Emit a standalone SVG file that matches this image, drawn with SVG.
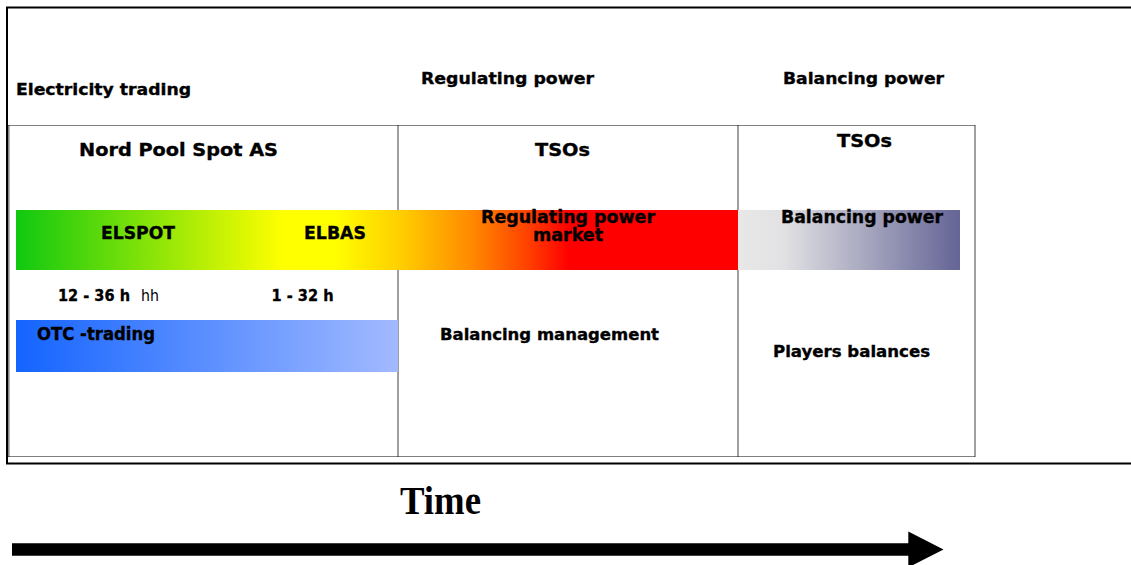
<svg xmlns="http://www.w3.org/2000/svg" width="1131" height="565" viewBox="0 0 1131 565">
  <style>
    .lbl { font-family: "DejaVu Sans", Verdana, "Liberation Sans", sans-serif; font-weight: bold; fill: #000; stroke: #000; stroke-width: 0.35; }
    .reg { font-family: "DejaVu Sans", Verdana, "Liberation Sans", sans-serif; font-weight: normal; fill: #000; }
    .frame { fill: none; stroke: #000; stroke-width: 2; }
    .dots { fill: none; stroke: #000; stroke-width: 1; stroke-dasharray: 1 1; }
    .vdots { fill: none; stroke: #111; stroke-width: 1.6; stroke-dasharray: 1 1; }
  </style>
  <defs>
    <linearGradient id="gMarket" gradientUnits="userSpaceOnUse" x1="16" y1="0" x2="738" y2="0">
      <stop offset="0" stop-color="#10c810"/>
      <stop offset="0.37" stop-color="#ffff00"/>
      <stop offset="0.44" stop-color="#ffff00"/>
      <stop offset="0.53" stop-color="#ffd000"/>
      <stop offset="0.63" stop-color="#ff8a00"/>
      <stop offset="0.71" stop-color="#ff4000"/>
      <stop offset="0.765" stop-color="#ff0000"/>
      <stop offset="1" stop-color="#ff0000"/>
    </linearGradient>
    <linearGradient id="gBalance" gradientUnits="userSpaceOnUse" x1="738" y1="0" x2="960" y2="0">
      <stop offset="0" stop-color="#e8e8e8"/>
      <stop offset="0.2" stop-color="#e2e2e4"/>
      <stop offset="1" stop-color="#646496"/>
    </linearGradient>
    <linearGradient id="gOtc" gradientUnits="userSpaceOnUse" x1="16" y1="0" x2="398" y2="0">
      <stop offset="0" stop-color="#1464ff"/>
      <stop offset="1" stop-color="#a2baff"/>
    </linearGradient>
  </defs>

  <!-- outer frame (open on the right) -->
  <path class="frame" d="M1131,7.5 H7 V463.5 H1131"/>

  <!-- dotted column grid -->
  <g id="grid">
    <line class="dots" x1="8.5" y1="125.5" x2="975" y2="125.5"/>
    <line class="dots" x1="8.5" y1="456.5" x2="975" y2="456.5"/>
    <line class="vdots" x1="8.8" y1="125.5" x2="8.8" y2="456.5"/>
    <line class="vdots" x1="398" y1="125.5" x2="398" y2="456.5"/>
    <line class="vdots" x1="738" y1="125.5" x2="738" y2="456.5"/>
    <line class="vdots" x1="975" y1="125.5" x2="975" y2="456.5"/>
  </g>

  <!-- column headings -->
  <g id="head-trading">
    <text class="lbl" x="16" y="95" font-size="16" textLength="175" lengthAdjust="spacingAndGlyphs">Electricity trading</text>
  </g>
  <g id="head-regulating">
    <text class="lbl" x="421" y="84" font-size="16" textLength="173" lengthAdjust="spacingAndGlyphs">Regulating power</text>
  </g>
  <g id="head-balancing">
    <text class="lbl" x="783" y="84" font-size="16" textLength="161" lengthAdjust="spacingAndGlyphs">Balancing power</text>
  </g>

  <!-- operators -->
  <g id="op-nordpool">
    <text class="lbl" x="79" y="155.5" font-size="17.5" textLength="199" lengthAdjust="spacingAndGlyphs">Nord Pool Spot AS</text>
  </g>
  <g id="op-tso-regulating">
    <text class="lbl" x="535" y="155.5" font-size="17.5" textLength="55" lengthAdjust="spacingAndGlyphs">TSOs</text>
  </g>
  <g id="op-tso-balancing">
    <text class="lbl" x="837" y="147" font-size="17.5" textLength="55" lengthAdjust="spacingAndGlyphs">TSOs</text>
  </g>

  <!-- market bar: ELSPOT / ELBAS / regulating power market -->
  <g id="bar-market">
    <rect x="16" y="210" width="722" height="60" fill="url(#gMarket)"/>
    <text class="lbl" x="101" y="238.5" font-size="18" textLength="74" lengthAdjust="spacingAndGlyphs">ELSPOT</text>
    <text class="lbl" x="304" y="238.5" font-size="18" textLength="62" lengthAdjust="spacingAndGlyphs">ELBAS</text>
    <text class="lbl" x="481" y="222.5" font-size="17.5" textLength="174" lengthAdjust="spacingAndGlyphs">Regulating power</text>
    <text class="lbl" x="533" y="241" font-size="17.5" textLength="70" lengthAdjust="spacingAndGlyphs">market</text>
  </g>

  <!-- balancing power bar -->
  <g id="bar-balancing">
    <rect x="738" y="210" width="222" height="60" fill="url(#gBalance)"/>
    <text class="lbl" x="781" y="222.5" font-size="17" textLength="162" lengthAdjust="spacingAndGlyphs">Balancing power</text>
  </g>

  <!-- lead times -->
  <g id="lead-elspot">
    <text class="lbl" x="58" y="300.5" font-size="15.5" textLength="72" lengthAdjust="spacingAndGlyphs">12 - 36 h</text>
    <text class="reg" x="141" y="300.5" font-size="15.5" textLength="18" lengthAdjust="spacingAndGlyphs">hh</text>
  </g>
  <g id="lead-elbas">
    <text class="lbl" x="271.5" y="300.5" font-size="15.5" textLength="62" lengthAdjust="spacingAndGlyphs">1 - 32 h</text>
  </g>

  <!-- OTC bar -->
  <g id="bar-otc">
    <rect x="16" y="320" width="382" height="52" fill="url(#gOtc)"/>
    <text class="lbl" x="37" y="339.5" font-size="17.5" textLength="118" lengthAdjust="spacingAndGlyphs">OTC -trading</text>
  </g>

  <g id="balancing-management">
    <text class="lbl" x="440" y="339.5" font-size="16" textLength="219" lengthAdjust="spacingAndGlyphs">Balancing management</text>
  </g>
  <g id="players-balances">
    <text class="lbl" x="773" y="357" font-size="16" textLength="157" lengthAdjust="spacingAndGlyphs">Players balances</text>
  </g>

  <!-- time axis -->
  <g id="time-label">
    <text x="400" y="514" font-family="'Liberation Serif', 'Times New Roman', serif" font-weight="bold" font-size="39" textLength="81" lengthAdjust="spacingAndGlyphs">Time</text>
  </g>
  <g id="connectors">
    <path d="M12,543.3 H908.3 V531.6 L943.5,549.5 L908.3,567.4 V555.7 H12 Z" fill="#000"/>
  </g>
</svg>
